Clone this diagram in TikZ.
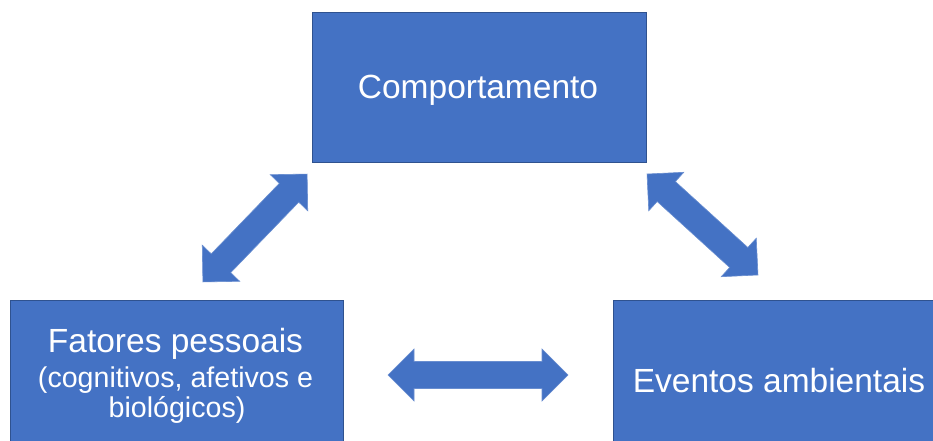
\documentclass[tikz,border=0pt]{standalone}
\usepackage{fontspec}
\setmainfont{Liberation Sans}
\definecolor{boxblue}{HTML}{4472C4}
\definecolor{edgeblue}{HTML}{2F528F}
\newcommand\myDblArrow[1]{%
  \draw[dbl] ({-#1/2},0) -- ({-#1/2+26},-26) -- ({-#1/2+26},-13.5) -- ({#1/2-26},-13.5)
    -- ({#1/2-26},-26) -- ({#1/2},0) -- ({#1/2-26},26) -- ({#1/2-26},13.5)
    -- ({-#1/2+26},13.5) -- ({-#1/2+26},26) -- cycle;}
\begin{document}
\begin{tikzpicture}[x=1pt,y=-1pt,
  box/.style={draw=edgeblue, line width=1pt, fill=boxblue, inner sep=0pt},
  txt/.style={text=white, inner sep=0pt, anchor=base},
  big/.style={font=\fontsize{33.5}{40}\selectfont},
  small/.style={font=\fontsize{28.6}{34}\selectfont},
  dbl/.style={fill=boxblue, draw=boxblue!80!white, line width=0.6pt, line join=miter}]
\useasboundingbox (0,0) rectangle (933,441);
\clip (0,0) rectangle (933,441);
\fill[white] (0,0) rectangle (933,441);
% boxes
\node[box, minimum width=334pt, minimum height=149pt] (comp) at (479,87.5) {};
\node[box, minimum width=333pt, minimum height=160pt] (fat) at (176.5,380) {};
\node[box, minimum width=333pt, minimum height=160pt] (evt) at (779.5,380) {};
% texts
\node[txt,big] (tcomp) at (478,99) {Comportamento};
\node[txt,big] (tfat1) at (175.5,352) {Fatores pessoais};
\node[txt,small] (tfat2) at (175.5,387) {(cognitivos, afetivos e};
\node[txt,small] (tfat3) at (177,417) {biológicos)};
\node[txt,big] (tevt) at (779,392) {Eventos ambientais};
% double block arrows
\begin{scope}[shift={(478,375)}]
  \myDblArrow{180}
\end{scope}
\begin{scope}[shift={(255,228)}, rotate=46]
  \myDblArrow{150}
\end{scope}
\begin{scope}[shift={(702.5,224.5)}, rotate=-42.3]
  \myDblArrow{150}
\end{scope}
\end{tikzpicture}
\end{document}
